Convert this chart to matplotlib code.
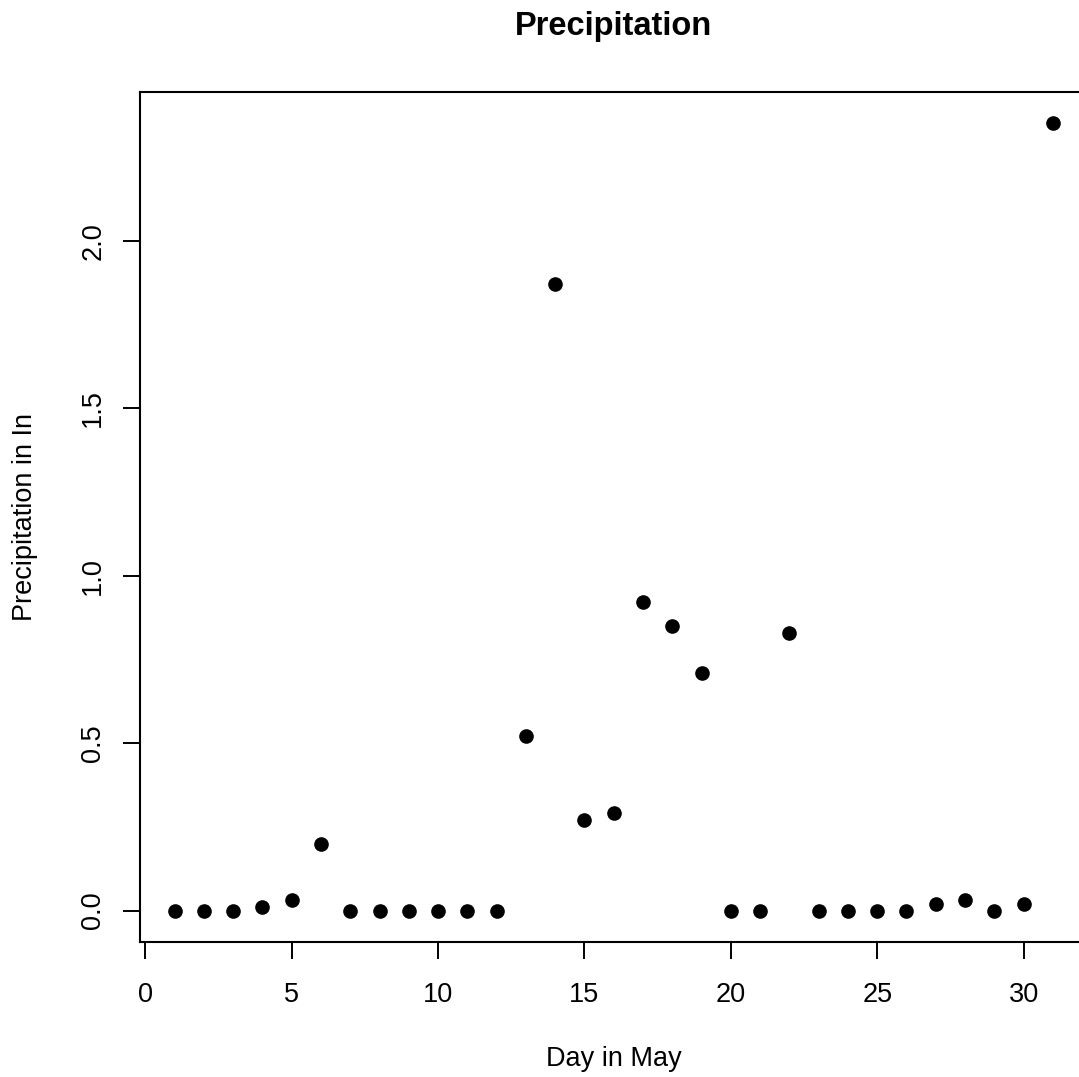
import matplotlib
matplotlib.use("Agg")
import matplotlib.pyplot as plt

days = list(range(1, 32))
precip = [0, 0, 0, 0.01, 0.03, 0.20, 0, 0, 0, 0, 0, 0, 0.52, 1.87, 0.27, 0.29,
          0.92, 0.85, 0.71, 0, 0, 0.83, 0, 0, 0, 0, 0.02, 0.03, 0, 0.02, 2.35]
xticks = [0, 5, 10, 15, 20, 25, 30]
yticks = [0.0, 0.5, 1.0, 1.5, 2.0]

plt.rcParams['font.family'] = ['Liberation Sans', 'DejaVu Sans']

W, H = 1079, 1077
fig = plt.figure(figsize=(W / 100, H / 100), dpi=100)
# axes box in pixels (right edge runs past the image, as in the reference)
left, right, top, bottom = 139.5, 1088, 92, 942
ax = fig.add_axes([left / W, (H - bottom) / H, (right - left) / W, (bottom - top) / H])

ax.plot(days, precip, 'o', color='black', markersize=9.5)

# R-style 4% padding
xr = max(days) - min(days)
yr = max(precip) - min(precip)
ax.set_xlim(min(days) - 0.04 * xr, max(days) + 0.04 * xr)
ax.set_ylim(min(precip) - 0.04 * yr, max(precip) + 0.04 * yr)

ax.set_xticks(xticks)
ax.set_xticklabels([str(t) for t in xticks])
ax.set_yticks(yticks)
ax.set_yticklabels(['%.1f' % t for t in yticks], rotation=90, va='center')
ax.tick_params(direction='out', length=12, width=1.4, labelsize=19.5, colors='black')
ax.tick_params(axis='x', pad=17)
ax.tick_params(axis='y', pad=12)
for s in ax.spines.values():
    s.set_linewidth(1.5)

cx = (left + right) / 2 / W
cy = 1 - (top + bottom) / 2 / H
fig.text(cx, 1 - 1066 / H, 'Day in May', ha='center', va='baseline', fontsize=19.5)
fig.text(32 / W, cy, 'Precipitation in In', rotation=90, rotation_mode='anchor',
         ha='center', va='baseline', fontsize=19.5)
fig.text(cx, 1 - 35 / H, 'Precipitation', ha='center', va='baseline',
         fontsize=23.5, fontweight='bold')

fig.savefig('out.png', dpi=100)
